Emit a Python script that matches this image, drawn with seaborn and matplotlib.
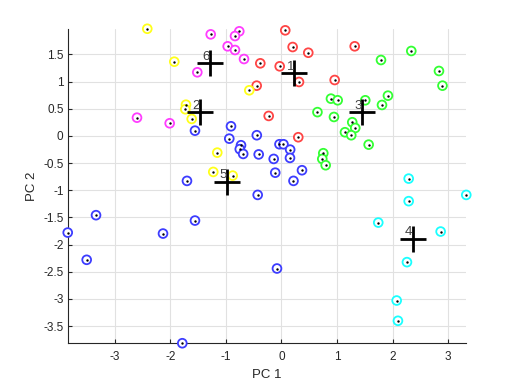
import matplotlib
matplotlib.use("Agg")
import matplotlib.pyplot as plt
import seaborn as sns
import pandas as pd
import numpy as np
from matplotlib.ticker import FuncFormatter

# ---- data ----
red_x = [0.068, 0.201, 0.482, 1.317, -0.381, -0.032, 0.315, 0.957, -0.446, -0.230, 0.302]
red_y = [1.943, 1.636, 1.531, 1.649, 1.336, 1.281, 0.993, 1.029, 0.925, 0.368, -0.024]

yellow_x = [-2.414, -1.928, -1.718, -1.730, -1.615, -0.579, -1.155, -1.227, -0.878]
yellow_y = [1.972, 1.366, 0.575, 0.491, 0.313, 0.840, -0.307, -0.662, -0.730]

green_x = [2.335, 1.790, 2.833, 2.896, 1.915, 1.808, 1.507, 0.890, 1.011, 0.647,
           0.944, 1.273, 1.327, 1.142, 1.255, 1.568, 0.752, 0.734, 0.795]
green_y = [1.563, 1.397, 1.195, 0.925, 0.741, 0.570, 0.656, 0.686, 0.656, 0.438,
           0.349, 0.252, 0.147, 0.068, 0.013, -0.160, -0.318, -0.423, -0.539]

cyan_x = [2.288, 2.288, 3.324, 2.863, 2.257, 2.072, 2.095, 1.741]
cyan_y = [-0.785, -1.200, -1.085, -1.759, -2.322, -3.028, -3.401, -1.594]

blue_x = [-1.556, -0.908, -0.939, -0.728, -0.750, -0.689, -0.444, -0.410, -0.036, 0.036,
          0.156, 0.153, -0.140, 0.369, -0.112, 0.216, -1.700, -0.428, -3.336, -3.845,
          -3.504, -2.131, -1.556, -0.081, -1.784]
blue_y = [0.097, 0.178, -0.050, -0.171, -0.243, -0.331, 0.013, -0.340, -0.153, -0.153,
          -0.252, -0.404, -0.423, -0.631, -0.676, -0.827, -0.827, -1.085, -1.458, -1.778,
          -2.279, -1.796, -1.557, -2.439, -3.814]

magenta_x = [-1.273, -0.759, -0.836, -0.968, -0.836, -0.674, -1.514, -2.599, -2.011]
magenta_y = [1.869, 1.925, 1.838, 1.649, 1.581, 1.415, 1.171, 0.336, 0.233]

centroid_labels = ["1", "2", "3", "4", "5", "6"]
centroid_x = [0.232, -1.466, 1.445, 2.365, -0.975, -1.286]
centroid_y = [1.150, 0.435, 0.435, -1.893, -0.840, 1.336]

cluster_colors = ["#ff4545", "#ffff1a", "#33ff33", "#1affff", "#3d3dff", "#ff3dff"]

xs = [red_x, yellow_x, green_x, cyan_x, blue_x, magenta_x]
ys = [red_y, yellow_y, green_y, cyan_y, blue_y, magenta_y]

frames = []
for lab, x, y in zip(centroid_labels, xs, ys):
    frames.append(pd.DataFrame({"PC1": x, "PC2": y, "cluster": lab}))
df = pd.concat(frames, ignore_index=True)
cent = pd.DataFrame({"PC1": centroid_x, "PC2": centroid_y, "label": centroid_labels})

# ---- style ----
sns.set_theme(style="white")
plt.rcParams["font.family"] = ["Liberation Sans", "DejaVu Sans"]

fig = plt.figure(figsize=(5.15, 3.86), dpi=100)
ax = fig.add_axes([0.1315, 0.1122, 0.7728, 0.8119])

# rings
sns.scatterplot(data=df, x="PC1", y="PC2", hue="cluster",
                palette=dict(zip(centroid_labels, cluster_colors)),
                marker="o", s=40, linewidth=1.3, legend=False, ax=ax, zorder=3)
coll = ax.collections[-1]
fc = coll.get_facecolors()
coll.set_edgecolors(fc)
coll.set_facecolors("white")
coll.set_clip_on(False)

# center dots
sns.scatterplot(data=df, x="PC1", y="PC2", color="black", marker="o", s=3,
                linewidth=0, legend=False, ax=ax, zorder=4)
ax.collections[-1].set_clip_on(False)

# centroids
sns.scatterplot(data=cent, x="PC1", y="PC2", color="black", marker="+", s=330,
                linewidth=2.0, legend=False, ax=ax, zorder=5)
for _, r in cent.iterrows():
    ax.annotate(r["label"], (r["PC1"], r["PC2"]), xytext=(-3.0, 4.8),
                textcoords="offset points", ha="center", va="center",
                fontsize=9.5, color="#404040", zorder=6)

allx = list(df["PC1"]) + centroid_x
ally = list(df["PC2"]) + centroid_y
ax.set_xlim(min(allx), max(allx) - 0.01)
ax.set_ylim(min(ally) + 0.01, max(ally) - 0.01)

ax.set_xticks([-3, -2, -1, 0, 1, 2, 3])
ax.set_yticks([-3.5, -3, -2.5, -2, -1.5, -1, -0.5, 0, 0.5, 1, 1.5])
fmt = FuncFormatter(lambda v, p: ("%g" % v))
ax.xaxis.set_major_formatter(fmt)
ax.yaxis.set_major_formatter(fmt)

ax.grid(True, color="#e1e1e1", linewidth=0.8)
ax.set_axisbelow(True)
for s in ["top", "right"]:
    ax.spines[s].set_visible(False)
for s in ["left", "bottom"]:
    ax.spines[s].set_color("#262626")
    ax.spines[s].set_linewidth(0.8)

ax.tick_params(axis="both", direction="in", length=3, width=0.8,
               colors="#262626", labelsize=8.5, labelcolor="#262626",
               bottom=True, left=True)
ax.tick_params(axis="x", pad=6)
ax.tick_params(axis="y", pad=3)

ax.set_xlabel("PC 1", fontsize=9.5, color="#262626", labelpad=4)
ax.set_ylabel("PC 2", fontsize=9.5, color="#262626", labelpad=4)

fig.savefig("out.png", dpi=100)
